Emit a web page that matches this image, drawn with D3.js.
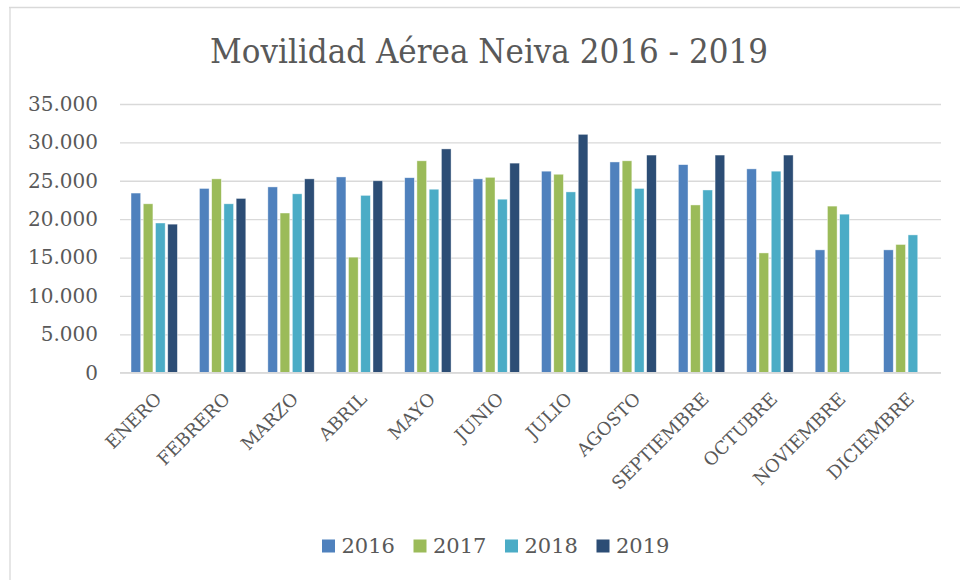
<!DOCTYPE html>
<html>
<head>
<meta charset="utf-8">
<script src="https://cdn.jsdelivr.net/npm/d3@7"></script>
<style>
  html, body { margin: 0; padding: 0; background: #fff; }
  svg { display: block; }
  text { font-family: "DejaVu Serif", "Liberation Serif", serif; fill: #595959; }
</style>
</head>
<body>
<svg id="chart" width="960" height="580"></svg>
<script>
const months = ["ENERO","FEBRERO","MARZO","ABRIL","MAYO","JUNIO","JULIO","AGOSTO","SEPTIEMBRE","OCTUBRE","NOVIEMBRE","DICIEMBRE"];
const years = ["2016","2017","2018","2019"];
const values2016 = [23400, 24000, 24200, 25500, 25400, 25250, 26250, 27450, 27100, 26550, 16000, 16000];
const values2017 = [22000, 25250, 20800, 15050, 27600, 25450, 25850, 27600, 21850, 15600, 21700, 16700];
const values2018 = [19500, 22000, 23300, 23100, 23900, 22600, 23550, 24000, 23800, 26250, 20650, 17950];
const values2019 = [19350, 22700, 25250, 25000, 29150, 27300, 31050, 28350, 28350, 28350, null, null];
const yTicks = [0, 5000, 10000, 15000, 20000, 25000, 30000, 35000];
const colors = ["#4F81BD", "#9BBB59", "#4BACC6", "#2C4D75"];
const title = "Movilidad Aérea Neiva 2016 - 2019";

const series = [values2016, values2017, values2018, values2019];
const svg = d3.select("#chart");

// frame (only top and left edges visible in reference)
svg.append("line").attr("x1", 9).attr("x2", 960).attr("y1", 7.5).attr("y2", 7.5)
  .attr("stroke", "#d9d9d9").attr("stroke-width", 1.3);
svg.append("line").attr("x1", 10).attr("x2", 10).attr("y1", 7).attr("y2", 580)
  .attr("stroke", "#d9d9d9").attr("stroke-width", 1.3);

const x0 = d3.scaleBand().domain(months).range([120, 941]).padding(0);
const x1 = d3.scaleBand().domain(years).range([0, x0.bandwidth()]).paddingInner(0.21).paddingOuter(0.9);
const y = d3.scaleLinear().domain([0, 35000]).range([372.7, 104]);

const locale = d3.formatLocale({decimal: ",", thousands: ".", grouping: [3], currency: ["$", ""]});
const fmt = locale.format(",d");

// gridlines
const yAxis = d3.axisLeft(y).tickValues(yTicks).tickSize(-(941 - 120)).tickFormat(fmt).tickPadding(22);
const gy = svg.append("g").attr("transform", "translate(120,0)").call(yAxis);
gy.select(".domain").remove();
gy.selectAll(".tick line").attr("stroke", "#d9d9d9").attr("stroke-width", 1.3);
gy.selectAll(".tick text").attr("font-size", 20).attr("fill", "#595959")
  .style("font-family", "'DejaVu Serif', serif");

// bars
const g = svg.append("g");
months.forEach((m, i) => {
  years.forEach((yr, j) => {
    const v = series[j][i];
    if (v == null) return;
    g.append("rect")
      .attr("x", x0(m) + x1(yr))
      .attr("width", x1.bandwidth())
      .attr("y", y(v))
      .attr("height", y(0) - y(v))
      .attr("fill", colors[j])
      .attr("stroke", "#ffffff")
      .attr("stroke-opacity", 0.6)
      .attr("stroke-width", 0.7);
  });
});

// baseline axis
svg.append("line").attr("x1", 120).attr("x2", 941).attr("y1", y(0)).attr("y2", y(0))
  .attr("stroke", "#d9d9d9").attr("stroke-width", 1.5);

// x labels
const xAxis = d3.axisBottom(x0).tickSize(0).tickPadding(0);
const gx = svg.append("g").attr("transform", `translate(0,${y(0)})`).call(xAxis);
gx.select(".domain").remove();
gx.selectAll(".tick text")
  .attr("font-size", 18)
  .attr("fill", "#595959")
  .style("font-family", "'DejaVu Serif', serif")
  .attr("text-anchor", "end")
  .attr("dy", "0.35em")
  .attr("y", 0)
  .attr("transform", "translate(4,23) rotate(-45)");

// title
svg.append("text")
  .attr("x", 489).attr("y", 63)
  .attr("text-anchor", "middle")
  .attr("font-size", 33)
  .attr("textLength", 558)
  .attr("lengthAdjust", "spacingAndGlyphs")
  .text(title);

// legend
const legend = svg.append("g").attr("transform", "translate(322,0)");
years.forEach((yr, j) => {
  const lg = legend.append("g").attr("transform", `translate(${j * 91.5},0)`);
  lg.append("rect").attr("x", 0).attr("y", 539.5).attr("width", 13).attr("height", 13).attr("fill", colors[j]);
  lg.append("text").attr("x", 19.5).attr("y", 553).attr("font-size", 21).text(yr);
});
</script>
</body>
</html>
